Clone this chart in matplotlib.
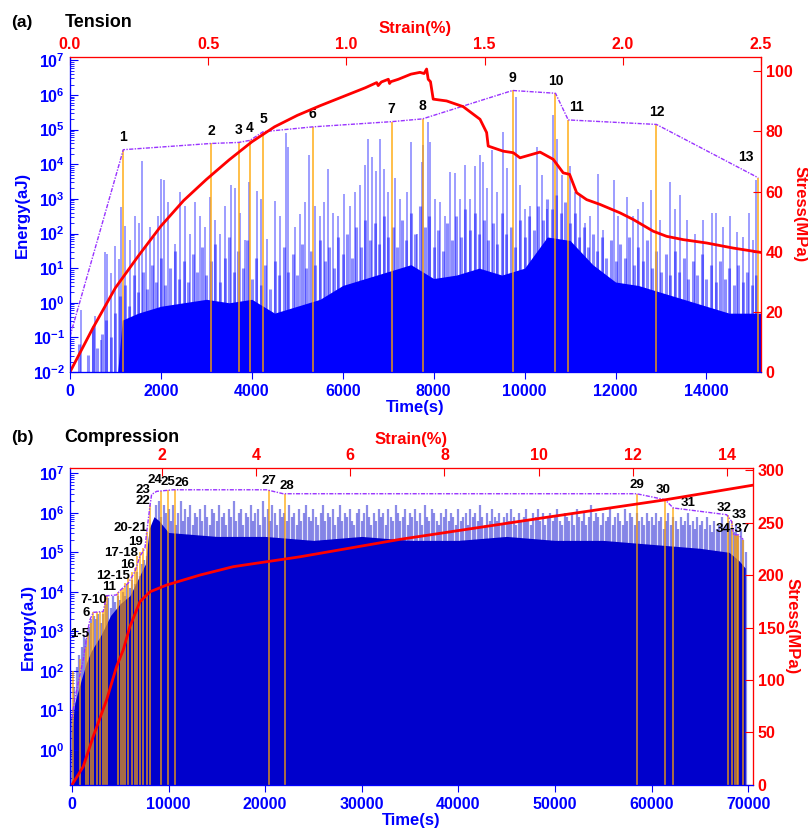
import numpy as np
import matplotlib.pyplot as plt
from matplotlib.ticker import FixedLocator, LogLocator, MultipleLocator, NullFormatter

plt.rcParams['font.family'] = 'Liberation Sans'
plt.rcParams['font.weight'] = 'bold'
plt.rcParams['mathtext.fontset'] = 'custom'
plt.rcParams['mathtext.rm'] = 'Liberation Sans:bold'
plt.rcParams['mathtext.bf'] = 'Liberation Sans:bold'
plt.rcParams['mathtext.it'] = 'Liberation Sans:bold'

BLUE = '#0000FF'
DARKBLUE = '#0000CC'
RED = '#FF0000'
ORANGE = '#FFA500'
PURPLE = '#9933FF'

# ---------------- (a) Tension ----------------
# stress curve, time (s) vs stress (MPa)
ten_t = [0, 500, 1000, 1500, 2000, 2500, 3000, 3500, 4000, 4500, 5000, 5500, 6000, 6500,
         6747, 6780, 6850, 7003, 7030, 7060, 7223, 7500, 7700, 7790, 7845, 7880,
         7930, 7990, 8285, 8650, 9020, 9165, 9200, 9530, 9750, 9900, 10340, 10630,
         10850, 10990, 11145, 11365, 11660, 12100, 12390, 12830, 13125, 13490, 14000,
         14590, 15180]
ten_stress = [0, 14.5, 28, 38.5, 48.5, 57, 64, 70.5, 76.5, 81.5, 85.3, 88.5, 91.5, 94.5,
              96.2, 95.2, 96.4, 97.3, 95.9, 96.5, 97.3, 99.0, 99.6, 99.2, 100.7, 97.3,
              96.5, 90.7, 90.1, 88.2, 84, 79.6, 75.1, 73.4, 72.9, 71.2, 73.1, 70.7,
              66.2, 65.7, 59.6, 57.3, 55.7, 52.9, 50.7, 46.8, 45.1, 44, 42.9,
              41.2, 39.8]

# dense AE core (log10 energy, aJ)
ten_core_t = [1050, 1150, 1500, 2000, 2500, 3000, 3500, 4000, 4500, 5000, 5500, 6000,
              6500, 7000, 7500, 8000, 8500, 9000, 9500, 10000, 10500, 11000, 11500,
              12000, 12500, 13000, 13500, 14000, 14500, 15000, 15200]
ten_core_e = [-2, -0.5, -0.3, -0.1, 0.0, 0.1, 0.0, 0.1, -0.3, -0.1, 0.1, 0.5,
              0.7, 0.9, 1.1, 0.7, 0.8, 1.0, 0.8, 1.0, 1.9, 1.8, 1.1,
              0.6, 0.5, 0.3, 0.1, -0.1, -0.3, -0.3, -0.3]

# densely packed hits, one value per 100 s bin (log10 energy)
ten_fringe_e = [-2, -2, -1.2, -2, -1.5, -0.7, -1.3, -0.9, -0.5, -1.0,
                -0.3, 0.2, 0.5, -0.1, 0.8, 0.3, 0.9, 0.4, 1.1, 0.6,
                1.3, 0.5, 1.0, 1.5, 0.7, 1.2, 0.6, 1.4, 0.9, 1.6,
                0.8, 1.2, 1.7, 0.6, 1.3, 1.9, 0.9, 1.5, 1.0, 1.8,
                0.7, 1.3, 0.5, 1.1, 0.4, 1.2, 0.8, 1.6, 0.9, 1.4,
                0.8, 1.7, 1.0, 1.5, 1.1, 1.8, 1.2, 1.6, 1.0, 1.9,
                1.4, 2.0, 1.3, 2.2, 1.6, 2.4, 1.8, 2.3, 1.7, 2.5,
                1.9, 2.2, 1.6, 2.4, 1.8, 2.6, 2.0, 2.8, 2.2, 2.5,
                1.6, 2.1, 1.5, 2.3, 1.8, 2.5, 1.9, 2.7, 2.1, 2.6,
                2.0, 2.4, 1.8, 2.3, 1.7, 2.6, 2.0, 2.2, 1.6, 2.4,
                1.9, 2.5, 2.1, 2.8, 2.4, 3.0, 2.7, 3.1, 2.6, 2.9,
                2.3, 2.6, 1.9, 2.2, 1.6, 2.0, 1.5, 1.9, 1.3, 1.8,
                1.2, 1.7, 1.3, 1.9, 1.1, 1.6, 1.2, 1.8, 1.0, 1.5,
                0.9, 1.4, 0.8, 1.5, 0.9, 1.3, 0.7, 1.2, 0.8, 1.4,
                0.7, 1.1, 0.6, 1.2, 0.7, 1.0, 0.5, 1.1, 0.6, 0.9,
                0.5, 0.8]
ten_fringe_t = np.arange(len(ten_fringe_e)) * 100

# individual AE hits (time, log10 energy)
ten_hit_t = [250, 505, 557, 690, 760, 820, 910, 983, 1070, 1130, 1217, 1312, 1422, 1510,
             1583, 1680, 1750, 1848, 1935, 2010, 2067, 2155, 2300, 2410, 2520, 2630,
             2740, 2850, 2960, 3070, 3180, 3290, 3400, 3550, 3620, 3730, 3840,
             3940, 4107, 4200, 4327, 4510, 4620, 4745, 4803, 4950, 5060, 5170, 5258,
             5390, 5500, 5595, 5683, 5793, 5903, 6035, 6160, 6270, 6380, 6490, 6563,
             6637, 6730, 6820, 6915, 7000, 7150, 7260, 7405, 7500, 7625, 7735,
             7773, 7883, 7920, 8030, 8140, 8250, 8360, 8470, 8580, 8690, 8800, 8910,
             9020, 9093, 9166, 9276, 9386, 9518, 9620, 9811, 9900, 10010, 10120, 10266,
             10376, 10486, 10632, 10706, 10816, 11000, 11110, 11220, 11330, 11440,
             11623, 11733, 11968, 12063, 12261, 12393, 12503, 12613, 12774, 12979, 13200,
             13310, 13420, 13566, 13750, 13933, 14116, 14211, 14373, 14520, 14666, 14813,
             14945, 15033, 15091]
ten_hit_e = [-0.2, -0.68, -0.39, -1.07, 1.46, 1.4, 0.87, 1.64, 1.25, 2.76, 2.22, 1.8, 2.52, 2.3,
             4.08, 1.6, 2.2, 1.9, 2.5, 3.58, 3.55, 2.9, 1.7, 3.2, 2.8, 2.0,
             2.9, 2.5, 2.2, 3.05, 2.4, 2.0, 2.8, 3.39, 3.3, 2.6, 1.8,
             3.48, 3.24, 3.0, 1.85, 2.95, 2.5, 4.89, 4.5, 2.2, 2.55, 2.9, 4.26,
             2.8, 2.5, 2.9, 3.87, 2.6, 2.5, 3.15, 2.8, 3.2, 3.4, 3.97, 4.74,
             4.2, 3.8, 4.74, 3.85, 3.2, 3.6, 3.0, 3.2, 4.65, 2.0, 4.07,
             4.55, 5.23, 4.65, 3.0, 2.9, 2.5, 3.78, 3.75, 3.0, 3.97, 3.0, 3.95,
             4.26, 4.07, 3.3, 4.4, 3.2, 4.94, 3.9, 5.93, 3.4, 2.7, 2.8, 4.5,
             3.7, 2.7, 5.42, 4.74, 3.7, 3.95, 3.2, 3.1, 2.3, 2.5,
             3.73, 2.1, 3.55, 2.5, 3.05, 2.5, 2.7, 2.9, 3.25, 2.4, 3.5,
             2.7, 3.1, 2.4, 2.0, 2.4, 2.6, 2.6, 2.2, 2.5, 2.05, 1.9,
             2.6, 1.8, 3.55]

# key events 1-13 and the max-energy envelope through them
ten_ev_t = [1173, 3100, 3710, 3960, 4250, 5340, 7075, 7755, 9735, 10680, 10960, 12900, 15140]
ten_ev_e = [4.42, 4.6, 4.63, 4.69, 4.94, 5.08, 5.23, 5.31, 6.13, 6.05, 5.28, 5.15, 3.61]
ten_env_t = [0] + ten_ev_t
ten_env_e = [-0.97] + ten_ev_e

# ---------------- (b) Compression ----------------
comp_t = [0, 1170, 2200, 3590, 4620, 5310, 6000, 7040, 8075, 9800, 13250, 16700,
          20150, 23600, 33950, 49480, 61210, 70530]
comp_stress = [0, 17.5, 46, 81, 112.7, 128.6, 150.8, 174.6, 184, 190.5, 200, 208,
               212.7, 217.4, 234, 255.5, 271.4, 285.7]

comp_core_t = [0, 300, 1000, 1500, 2000, 3000, 4000, 5000, 6000, 7000, 7600, 8000,
               8500, 9000, 10000, 15000, 20000, 25000, 30000, 35000, 40000, 45000, 50000,
               55000, 60000, 65000, 68000, 69000, 69700]
comp_core_e = [0.5, 1.2, 1.8, 2.2, 2.5, 2.9, 3.4, 3.7, 3.9, 4.4, 4.7, 5.6,
               5.9, 5.8, 5.5, 5.4, 5.4, 5.3, 5.4, 5.3, 5.3, 5.4, 5.3,
               5.3, 5.2, 5.1, 5.0, 4.8, 4.6]

# densely packed hits, one value per 250 s bin (log10 energy)
comp_fringe_e = [
    0.8, 1.6, 2.1, 2.4, 2.6, 2.9, 2.8, 3.1, 3.3, 3.4, 3.3, 3.45, 3.2, 3.45, 3.7, 3.85, 3.6, 3.9, 3.75, 3.9,
    3.8, 4.0, 3.9, 4.2, 4.1, 4.3, 4.2, 4.5, 4.4, 4.7, 4.8, 4.9, 5.0, 5.3, 5.6, 6.2, 6.3, 5.9, 6.2, 6.0,
    6.1, 5.8, 6.2, 5.7, 6.0, 6.3, 5.8, 6.1, 5.9, 6.2, 5.7, 6.0, 5.9, 6.1, 5.8, 6.2, 5.9, 5.7, 6.1, 6.0,
    5.8, 6.2, 5.9, 6.0, 5.7, 6.1, 5.9, 6.3, 5.8, 6.0, 6.1, 5.7, 6.0, 5.9, 6.2, 5.8, 6.0, 6.1, 5.7, 6.3,
    5.9, 6.1, 5.8, 6.2, 6.0, 5.7, 6.1, 5.9, 6.0, 5.8, 6.2, 5.9, 6.0, 5.7, 6.1, 5.8, 6.0, 6.2, 5.9, 5.8,
    6.1, 5.9, 5.7, 6.0, 6.2, 5.8, 6.0, 5.9, 6.1, 5.7, 5.9, 6.2, 5.8, 6.0, 5.9, 6.1, 5.8, 5.7, 6.0, 6.1,
    5.8, 6.0, 6.2, 5.9, 5.7, 6.0, 5.8, 6.1, 5.9, 6.0, 5.7, 6.1, 5.9, 5.8, 6.2, 6.0, 5.8, 5.9, 6.1, 5.7,
    6.0, 5.9, 6.1, 5.8, 6.0, 5.7, 6.2, 5.9, 5.8, 6.1, 6.0, 5.8, 5.7, 6.0, 5.9, 6.1, 5.8, 6.0, 5.9, 5.7,
    6.1, 5.8, 5.9, 6.0, 5.7, 6.1, 5.9, 6.0, 5.8, 6.2, 5.9, 5.7, 6.0, 5.8, 6.1, 5.9, 5.8, 6.0, 5.7, 5.9,
    6.0, 5.8, 6.1, 5.9, 5.7, 6.0, 5.8, 5.9, 6.1, 5.8, 5.7, 6.0, 5.9, 6.1, 5.8, 6.0, 5.7, 5.9, 6.0, 5.8,
    5.9, 6.1, 5.8, 5.7, 6.0, 5.9, 5.8, 6.0, 5.7, 6.1, 5.9, 5.8, 6.0, 5.7, 5.9, 6.2, 5.8, 6.0, 5.9, 5.7,
    6.0, 5.8, 5.9, 6.1, 5.7, 5.9, 6.0, 5.8, 5.7, 6.1, 5.8, 6.0, 5.9, 5.7, 6.0, 5.8, 5.9, 5.7, 6.0, 5.8,
    5.9, 5.7, 6.0, 5.8, 5.9, 5.6, 5.8, 6.0, 5.7, 5.9, 5.8, 5.6, 5.9, 5.7, 5.8, 6.0, 5.7, 5.8, 5.6, 5.9,
    5.7, 5.8, 5.6, 5.9, 5.7, 5.5, 5.8, 5.6, 5.7, 5.9, 5.6, 5.7, 5.8, 5.6, 5.5, 5.7, 5.4, 5.6, 5.3, 5.0]
comp_fringe_t = np.arange(len(comp_fringe_e)) * 250

comp_env_t = [0, 300, 1170, 1590, 1860, 2210, 3240, 3590, 4620, 4970, 5830, 6520, 7040,
              7560, 7730, 8075, 8250, 8770, 10490, 20150, 21870, 58450, 61390, 62250,
              67770, 68290, 68500, 69000, 69500]
comp_env_e = [0.8, 1.3, 2.28, 2.95, 3.29, 3.48, 3.5, 3.9, 3.92, 4.03, 4.22, 4.51, 4.9,
              5.1, 5.48, 6.16, 6.46, 6.54, 6.58, 6.58, 6.48, 6.48, 6.33, 6.12,
              5.95, 5.78, 5.44, 5.44, 5.32]

comp_ev_t = [69, 828, 1449, 1691, 1932, 2208, 2553, 2898, 3174, 3416, 3657, 4796, 5037,
             5244, 5486, 5830, 6176, 6520, 6762, 7038, 7383, 7728, 8073, 9212, 9902,
             10660, 20424, 22080, 58520, 61390, 62250, 67870, 68290, 68640, 68810,
             68980, 69500]
comp_ev_e = [2.0, 2.3, 2.6, 2.95, 3.2, 3.48, 3.5, 3.5, 3.5, 3.9, 3.92, 4.0, 4.05,
             4.1, 4.22, 4.35, 4.5, 4.6, 4.9, 5.0, 5.1, 5.5, 6.2, 6.55, 6.58,
             6.58, 6.58, 6.48, 6.48, 6.33, 6.12, 5.95, 5.78, 5.44, 5.44,
             5.44, 5.32]

comp_labels = ['1-5', '6', '7-10', '11', '12-15', '16', '17-18', '19', '20-21', '22', '23',
               '24', '25', '26', '27', '28', '29', '30', '31', '32', '33', '34-37']
comp_lab_t = [828, 1449, 2208, 3864, 4278, 5727, 5140, 6624, 6072, 7314, 7383,
              8590, 9970, 11350, 20424, 22218, 58520, 61150, 63800, 67490, 69080, 68390]
comp_lab_e = [2.94, 3.46, 3.8, 4.12, 4.39, 4.67, 4.98, 5.27, 5.61, 6.29, 6.57,
              6.82, 6.78, 6.75, 6.79, 6.67, 6.71, 6.58, 6.25, 6.12, 5.95, 5.58]


def style_axes(ax, ax_s, ax_top, decades):
    for a in (ax, ax_s, ax_top):
        a.spines['top'].set_color(RED)
        a.spines['right'].set_color(RED)
        a.spines['left'].set_color(BLUE)
        a.spines['bottom'].set_color(BLUE)
    ax.set_yscale('log')
    ax.yaxis.set_major_locator(FixedLocator([10.0 ** d for d in decades]))
    ax.yaxis.set_minor_locator(LogLocator(base=10, subs=np.arange(2, 10), numticks=20))
    ax.yaxis.set_minor_formatter(NullFormatter())
    ax.tick_params(axis='both', which='both', direction='in', colors=BLUE, labelsize=11.5)
    ax.tick_params(axis='y', which='major', length=6)
    ax.tick_params(axis='y', which='minor', length=3)
    ax.tick_params(axis='x', which='major', length=5, direction='out')
    ax_s.tick_params(axis='y', direction='in', colors=RED, labelsize=11.5, length=6)
    ax_top.tick_params(axis='x', direction='in', colors=RED, labelsize=11.5, length=6)
    ax.set_xlabel('Time(s)', color=BLUE, fontsize=12, fontweight='bold', labelpad=1)
    ax.set_ylabel('Energy(aJ)', color=BLUE, fontsize=12, fontweight='bold', labelpad=2)
    ax_s.set_ylabel('Stress(MPa)', color=RED, fontsize=12, fontweight='bold',
                    rotation=270, labelpad=11)
    ax_top.set_xlabel('Strain(%)', color=RED, fontsize=12, fontweight='bold', labelpad=3)
    ax.set_zorder(ax_s.get_zorder() - 1)


def draw_hits(ax, core_t, core_e, fringe_t, fringe_e, width, color):
    ax.fill_between(core_t, 1e-3, 10.0 ** np.array(core_e), color=color, lw=0)
    ax.vlines(fringe_t, 1e-3, 10.0 ** np.array(fringe_e), colors=color, alpha=0.45, lw=width)


fig = plt.figure(figsize=(8.08, 8.31), dpi=100)

# ---- panel (a)
ax1 = fig.add_axes([0.0866, 0.5523, 0.8552, 0.3791])
ax1_s = ax1.twinx()
ax1_top = ax1.twiny()
ax1_s.patch.set_visible(False)

draw_hits(ax1, ten_core_t, ten_core_e, ten_fringe_t, ten_fringe_e, 2.2, BLUE)
ax1.vlines(ten_hit_t, 1e-3, 10.0 ** np.array(ten_hit_e), colors=BLUE, alpha=0.45, lw=1.2)
ax1.vlines(ten_ev_t, 1e-3, 10.0 ** np.array(ten_ev_e), colors=ORANGE, alpha=0.9, lw=1.1)
ax1.plot(ten_env_t, 10.0 ** np.array(ten_env_e), color=PURPLE, lw=1,
         linestyle=(0, (3, 1, 1, 1)))
for i, (t, e) in enumerate(zip(ten_ev_t, ten_ev_e)):
    dx, dy = 0, 4
    if i == 10:
        dx = 6
    if i == 12:
        dx, dy = -9, 10
    ax1.annotate(str(i + 1), (t, 10.0 ** e), xytext=(dx, dy), textcoords='offset points',
                 ha='center', va='bottom', fontsize=10, fontweight='bold', color='black')

ax1_s.plot(ten_t, ten_stress, color=RED, lw=2)

ax1.set_xlim(0, 15200)
ax1.set_ylim(1e-2, 1.25e7)
ax1.xaxis.set_major_locator(MultipleLocator(2000))
ax1_s.set_ylim(0, 104.7)
ax1_s.yaxis.set_major_locator(MultipleLocator(20))
ax1_top.set_xlim(0, 2.5)
ax1_top.xaxis.set_major_locator(MultipleLocator(0.5))
ax1_top.xaxis.set_major_formatter(plt.FormatStrFormatter('%.1f'))
style_axes(ax1, ax1_s, ax1_top, range(-2, 8))

fig.text(0.014, 0.967, '(a)', fontsize=12.5, fontweight='bold', color='black')
fig.text(0.080, 0.967, 'Tension', fontsize=13, fontweight='bold', color='black')

# ---- panel (b)
ax2 = fig.add_axes([0.0866, 0.0554, 0.8453, 0.3814])
ax2_s = ax2.twinx()
ax2_top = ax2.twiny()
ax2_s.patch.set_visible(False)

draw_hits(ax2, comp_core_t, comp_core_e, comp_fringe_t, comp_fringe_e, 1.6, DARKBLUE)
ax2.vlines(comp_ev_t, 1e-3, 10.0 ** np.array(comp_ev_e), colors=ORANGE, alpha=0.85, lw=1.1)
ax2.plot(comp_env_t, 10.0 ** np.array(comp_env_e), color=PURPLE, lw=1,
         linestyle=(0, (3, 1, 1, 1)))
for lab, t, e in zip(comp_labels, comp_lab_t, comp_lab_e):
    ax2.text(t, 10.0 ** e, lab, ha='center', va='center', fontsize=9.5,
             fontweight='bold', color='black')

ax2_s.plot(comp_t, comp_stress, color=RED, lw=2)

ax2.set_xlim(-200, 70500)
ax2.set_ylim(0.13, 1.35e7)
ax2.xaxis.set_major_locator(MultipleLocator(10000))
ax2_s.set_ylim(0, 302)
ax2_s.yaxis.set_major_locator(MultipleLocator(50))
ax2_top.set_xlim(0.05, 14.55)
ax2_top.xaxis.set_major_locator(MultipleLocator(2))
style_axes(ax2, ax2_s, ax2_top, range(0, 8))

fig.text(0.014, 0.468, '(b)', fontsize=12.5, fontweight='bold', color='black')
fig.text(0.080, 0.468, 'Compression', fontsize=13, fontweight='bold', color='black')

fig.savefig('out.png', dpi=100)
